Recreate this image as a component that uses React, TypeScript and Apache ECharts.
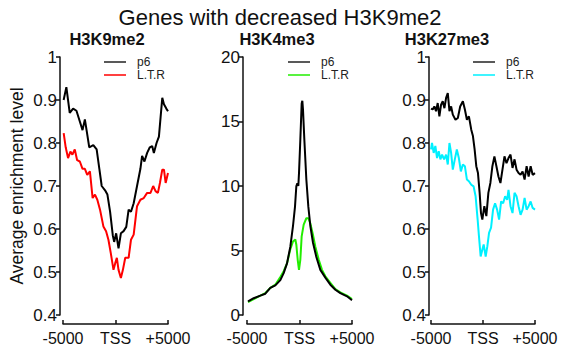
import React, { useEffect, useRef } from "react";
import * as echarts from "echarts";

// [position (bp), value]
const k9P6 = [[-4940,0.90],[-4680,0.93],[-4359,0.87],[-4038,0.88],[-3718,0.875],[-3397,0.85],[-3141,0.83],[-2917,0.855],[-2692,0.82],[-2500,0.79],[-2115,0.795],[-1795,0.785],[-1538,0.74],[-1314,0.70],[-994,0.69],[-769,0.68],[-513,0.64],[-256,0.585],[-128,0.57],[64,0.59],[288,0.555],[513,0.59],[769,0.595],[1026,0.605],[1250,0.645],[1474,0.64],[1731,0.66],[2051,0.70],[2372,0.74],[2532,0.77],[2756,0.757],[3013,0.777],[3269,0.79],[3494,0.793],[3654,0.777],[3910,0.80],[4135,0.815],[4295,0.86],[4455,0.905],[4615,0.89],[4840,0.88],[5000,0.874]];
const k9LTR = [[-4936,0.823],[-4744,0.79],[-4519,0.765],[-4295,0.78],[-4103,0.773],[-3878,0.785],[-3654,0.76],[-3397,0.757],[-3141,0.74],[-2917,0.74],[-2692,0.726],[-2436,0.734],[-2179,0.672],[-1955,0.68],[-1731,0.668],[-1474,0.645],[-1154,0.606],[-897,0.595],[-673,0.575],[-449,0.544],[-192,0.505],[-32,0.52],[128,0.533],[288,0.505],[513,0.486],[705,0.505],[929,0.533],[1250,0.533],[1474,0.575],[1731,0.587],[2051,0.653],[2372,0.668],[2692,0.672],[3013,0.684],[3333,0.684],[3590,0.70],[3814,0.688],[4038,0.684],[4231,0.707],[4455,0.738],[4615,0.738],[4776,0.707],[5000,0.73]];
const k4P6 = [[-4905,1.06],[-4365,1.3],[-3730,1.5],[-3254,1.65],[-2778,2.1],[-2301,2.3],[-1825,2.7],[-1508,3.25],[-1190,4.0],[-873,5.3],[-619,6.9],[-428,8.4],[-301,10.0],[-206,10.2],[-111,10.0],[-48,11.0],[80,13.6],[207,16.4],[270,16.6],[334,15.9],[461,13.6],[652,10.5],[842,8.4],[1033,6.9],[1286,5.6],[1604,4.5],[1985,3.5],[2461,2.9],[2938,2.35],[3414,1.96],[3890,1.7],[4525,1.45],[5000,1.14]];
const k4LTR = [[-4905,1.0],[-4365,1.24],[-3730,1.5],[-3254,1.7],[-2778,2.1],[-2301,2.35],[-1825,2.95],[-1508,3.4],[-1190,4.0],[-873,5.1],[-619,5.7],[-396,5.85],[-301,5.45],[-174,4.3],[-48,3.5],[80,4.3],[207,6.1],[398,7.0],[652,7.5],[842,7.5],[1033,7.1],[1286,6.2],[1509,5.3],[1826,4.3],[2144,3.5],[2461,3.0],[2938,2.5],[3414,2.0],[3890,1.75],[4525,1.5],[5000,1.24]];
const k27P6 = [[-5000,0.88],[-4839,0.878],[-4677,0.885],[-4516,0.874],[-4355,0.893],[-4194,0.862],[-4032,0.889],[-3871,0.897],[-3710,0.881],[-3548,0.905],[-3387,0.916],[-3226,0.874],[-3065,0.885],[-2903,0.866],[-2645,0.854],[-2419,0.858],[-2194,0.885],[-1935,0.897],[-1742,0.878],[-1548,0.854],[-1355,0.862],[-1129,0.831],[-968,0.816],[-806,0.785],[-645,0.746],[-484,0.73],[-323,0.684],[-194,0.637],[-65,0.622],[129,0.653],[323,0.63],[516,0.684],[710,0.707],[903,0.746],[1097,0.769],[1290,0.746],[1484,0.722],[1677,0.707],[1871,0.738],[2065,0.769],[2258,0.753],[2452,0.765],[2645,0.773],[2839,0.742],[3032,0.762],[3226,0.738],[3419,0.73],[3613,0.726],[3806,0.734],[4000,0.715],[4194,0.746],[4387,0.722],[4581,0.746],[4774,0.726],[5000,0.73]];
const k27LTR = [[-5000,0.785],[-4903,0.8],[-4742,0.777],[-4581,0.793],[-4419,0.765],[-4258,0.781],[-4097,0.762],[-3935,0.773],[-3742,0.762],[-3548,0.773],[-3387,0.75],[-3226,0.8],[-3065,0.777],[-2903,0.738],[-2710,0.762],[-2516,0.785],[-2323,0.765],[-2129,0.734],[-1935,0.75],[-1742,0.746],[-1548,0.715],[-1355,0.711],[-1129,0.703],[-903,0.699],[-710,0.676],[-516,0.622],[-387,0.583],[-226,0.536],[-65,0.552],[65,0.564],[258,0.536],[419,0.56],[581,0.591],[774,0.603],[968,0.645],[1161,0.66],[1355,0.645],[1548,0.622],[1742,0.664],[1935,0.66],[2129,0.676],[2323,0.668],[2452,0.691],[2645,0.653],[2839,0.637],[3032,0.684],[3226,0.676],[3419,0.653],[3613,0.633],[3806,0.645],[4000,0.672],[4194,0.645],[4387,0.653],[4581,0.664],[4774,0.649],[5000,0.645]];

const panelTitles = ["H3K9me2", "H3K4me3", "H3K27me3"];
const seriesNames = ["p6", "L.T.R"];
const ltrColors = ["#ff0000", "#22ee00", "#00f0ff"];
const xTickLabels: Record<number, string> = { [-5000]: "-5000", 0: "TSS", 5000: "+5000" };
const yRanges = [
  { min: 0.4, max: 1, interval: 0.1 },
  { min: 0, max: 20, interval: 5 },
  { min: 0.4, max: 1, interval: 0.1 },
];
const panelData = [
  [k9P6, k9LTR],
  [k4P6, k4LTR],
  [k27P6, k27LTR],
];

const FONT = "Liberation Sans, Arial, sans-serif";

export default function App() {
  const ref = useRef<HTMLDivElement>(null);
  useEffect(() => {
    if (!ref.current) return;
    const chart = echarts.init(ref.current, null, { renderer: "svg" });
    const grids = [
      { left: 63, top: 57, width: 105, height: 258, yOff: 3 },
      { left: 247, top: 57, width: 105, height: 258, yOff: 4 },
      { left: 431, top: 57, width: 104, height: 258, yOff: 2 },
    ];
    const titleCenters = [107, 277, 447];
    const legendX = [104, 288, 473];

    const graphic: any[] = [];
    legendX.forEach((lx, i) => {
      [0, 1].forEach((k) => {
        const y = 62 + k * 13;
        graphic.push({
          type: "line",
          shape: { x1: lx, y1: y, x2: lx + 22, y2: y },
          style: { stroke: k === 0 ? "#222" : ltrColors[i], lineWidth: 1.5 },
        });
        graphic.push({
          type: "text",
          x: lx + 33,
          y,
          style: {
            text: seriesNames[k],
            fill: "#222",
            font: `12px ${FONT}`,
            verticalAlign: "middle",
          },
        });
      });
    });

    chart.setOption({
      animation: false,
      backgroundColor: "#fff",
      title: [
        {
          text: "Genes with decreased H3K9me2",
          left: 280,
          top: 6,
          padding: 0,
          textAlign: "center",
          textStyle: { fontFamily: FONT, fontSize: 22, lineHeight: 23, fontWeight: "normal", color: "#111" },
        },
        ...panelTitles.map((t, i) => ({
          text: t,
          left: titleCenters[i],
          top: 30,
          padding: 0,
          textAlign: "center",
          textStyle: { fontFamily: FONT, fontSize: 16.5, lineHeight: 17, fontWeight: "bold", color: "#111" },
        })),
      ],
      grid: grids.map((g) => ({ left: g.left, top: g.top, width: g.width, height: g.height })),
      xAxis: grids.map((g, i) => ({
        type: "value",
        gridIndex: i,
        min: -5000,
        max: 5000,
        interval: 5000,
        offset: 9,
        splitLine: { show: false },
        axisLine: { show: true, onZero: false, lineStyle: { color: "#111", width: 1.5 } },
        axisTick: { show: true, inside: true, length: 4, lineStyle: { color: "#111", width: 1.5 } },
        axisLabel: {
          color: "#111",
          fontFamily: FONT,
          fontSize: 16,
          margin: 6,
          showMinLabel: true,
          showMaxLabel: true,
          formatter: (v: number) => xTickLabels[v] ?? "",
        },
      })),
      yAxis: grids.map((g, i) => ({
        type: "value",
        gridIndex: i,
        min: yRanges[i].min,
        max: yRanges[i].max,
        interval: yRanges[i].interval,
        offset: g.yOff,
        name: i === 0 ? "Average enrichment level" : "",
        nameLocation: "middle",
        nameGap: 34,
        nameTextStyle: { fontFamily: FONT, fontSize: 17.5, color: "#111" },
        splitLine: { show: false },
        axisLine: { show: true, onZero: false, lineStyle: { color: "#111", width: 1.5 } },
        axisTick: { show: true, length: 4, lineStyle: { color: "#111", width: 1.5 } },
        axisLabel: {
          color: "#111",
          fontFamily: FONT,
          fontSize: 17,
          margin: 3,
          formatter: (v: number) => String(Math.round(v * 10) / 10),
        },
      })),
      series: panelData.flatMap((pair, i) =>
        pair.map((d, k) => ({
          type: "line",
          name: seriesNames[k],
          xAxisIndex: i,
          yAxisIndex: i,
          data: d,
          showSymbol: false,
          symbol: "none",
          lineStyle: { color: k === 0 ? "#000" : ltrColors[i], width: 2 },
          z: k === 0 ? 3 : 2,
        }))
      ),
      graphic,
    });
    return () => chart.dispose();
  }, []);
  return (
    <div
      ref={ref}
      style={{ position: "fixed", left: 0, top: 0, width: 564, height: 349, background: "#fff" }}
    />
  );
}
